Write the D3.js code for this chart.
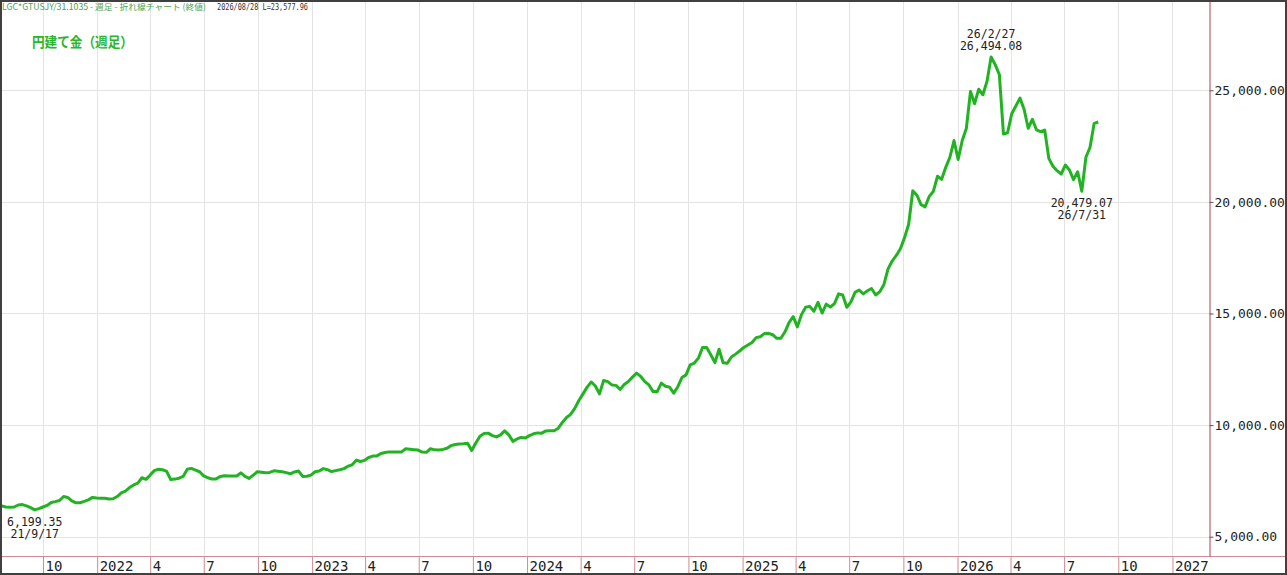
<!DOCTYPE html>
<html lang="ja">
<head>
<meta charset="utf-8">
<title>円建て金（週足）</title>
<script src="https://cdn.jsdelivr.net/npm/d3@7"></script>
<style>
  body { margin: 0; background: #fff; }
  svg { display: block; }
  .axis text { font-family: 'DejaVu Sans Mono', monospace; font-size: 14px; fill: #222; }
  .y.axis text { font-size: 13px; }
  .x.axis .tick line { stroke: #cf8a94; }
  .y.axis .tick line { stroke: #555; }
  .y.axis .domain { stroke: #b0404e; }
  .grid line { stroke: #e6e3e3; shape-rendering: crispEdges; }
  .note { font-family: 'DejaVu Sans Mono', monospace; font-size: 11.5px; fill: #222; }
</style>
</head>
<body>
<div id="gold-graph"><svg></svg></div>
<script>
const width = 1287
const height = 575
const plot = { right: 1209, bottom: 556 }

// weekly closes (Friday), yen per gram
const closes2021 = [6375, 6330, 6320, 6330, 6420, 6440, 6380, 6300, 6199.35, 6260, 6330, 6400,
  6530, 6570, 6620, 6800, 6760, 6600, 6520, 6520, 6580, 6650, 6760, 6730]
const closes2022 = [6720, 6720, 6690, 6700, 6800, 6960, 7040, 7200, 7320, 7400, 7640, 7570, 7760,
  7960, 8020, 8000, 7930, 7560, 7580, 7620, 7700, 8020, 8060, 7980, 7910, 7720, 7640, 7580,
  7590, 7700, 7730, 7720, 7720, 7720, 7860, 7700, 7610, 7760, 7910, 7890, 7870, 7880, 7950,
  7930, 7910, 7870, 7820, 7900, 7940, 7700, 7710, 7760]
const closes2023 = [7910, 7940, 8050, 8000, 7920, 7960, 8000, 8050, 8160, 8220, 8430, 8370, 8420,
  8550, 8610, 8620, 8730, 8770, 8800, 8800, 8790, 8800, 8940, 8920, 8900, 8880, 8790, 8780,
  8940, 8890, 8880, 8910, 8960, 9080, 9130, 9150, 9160, 9190, 8860, 9200, 9500, 9620, 9640,
  9530, 9470, 9560, 9740, 9560, 9270, 9380, 9450, 9420]
const closes2024 = [9530, 9610, 9650, 9640, 9740, 9750, 9750, 9860, 10120, 10340, 10480, 10750,
  11100, 11400, 11700, 11930, 11750, 11400, 12000, 11950, 11800, 11780, 11600, 11820, 11950,
  12150, 12330, 12180, 11950, 11800, 11500, 11500, 11880, 11740, 11700, 11430, 11720, 12130,
  12250, 12700, 12780, 13000, 13480, 13480, 13150, 12800, 13400, 12790, 12770, 13050, 13180,
  13320]
const closes2025 = [13480, 13590, 13700, 13920, 13960, 14100, 14110, 14050, 13890, 13890, 14180,
  14600, 14860, 14400, 14950, 15280, 15320, 15100, 15500, 15020, 15420, 15290, 15440, 15880,
  15830, 15280, 15520, 15950, 16050, 15880, 16020, 16120, 15830, 15980, 16300, 17000, 17350,
  17600, 17900, 18400, 19000, 20500, 20300, 19880, 19780, 20250, 20480, 21150, 21010, 21550,
  22000, 22750]
const closes2026 = [21900, 22750, 23300, 24950, 24400, 25050, 24800, 25400, 26494.08, 26150,
  25700, 23040, 23100, 23950, 24300, 24650, 24150, 23300, 23700, 23230, 23150, 23220, 21950,
  21600, 21400, 21250, 21650, 21430, 21000, 21350, 20479.07, 22000, 22450, 23520, 23577.96]

const firstWeek = new Date(2021, 6, 23)
const lastWeek = new Date(2026, 7, 28)
const yTicks = [5000, 10000, 15000, 20000, 25000]
const noteDates = [new Date(2021, 8, 17), new Date(2026, 1, 27), new Date(2026, 6, 31)]
const headerText = ['LGC*GTUSJY/31.1035 - 週足 - 折れ線チャート (終値)', '2026/08/28 L=23,577.96']
const titleText = '円建て金（週足）'

/**
 * Sets up the svg element and returns it.
 *
 * @returns {*} The d3 Selection of the svg
 */
function generateSvg () {
  return d3.select('#gold-graph')
    .select('svg')
    .attr('width', width)
    .attr('height', height)
}

/**
 * Draws the light gridlines behind the line.
 *
 * @param {*} svg The d3 Selection of the svg
 * @param {*} x The time scale
 * @param {*} y The value scale
 */
function appendGrid (svg, x, y) {
  const g = svg.append('g').attr('class', 'grid')
  g.selectAll('line.v')
    .data(x.ticks(d3.timeMonth.every(3)))
    .join('line')
    .attr('class', 'v')
    .attr('x1', d => Math.round(x(d)) + 0.5)
    .attr('x2', d => Math.round(x(d)) + 0.5)
    .attr('y1', 0)
    .attr('y2', plot.bottom)
  g.selectAll('line.h')
    .data(yTicks)
    .join('line')
    .attr('class', 'h')
    .attr('x1', 0)
    .attr('x2', plot.right)
    .attr('y1', d => Math.round(y(d)) + 0.5)
    .attr('y2', d => Math.round(y(d)) + 0.5)
}

/**
 * Draws the month axis under the plot and the value axis on the right.
 *
 * @param {*} svg The d3 Selection of the svg
 * @param {*} x The time scale
 * @param {*} y The value scale
 */
function appendAxes (svg, x, y) {
  const xAxis = d3.axisBottom(x)
    .ticks(d3.timeMonth.every(3))
    .tickSize(height - plot.bottom)
    .tickSizeOuter(0)
    .tickFormat(d => d.getMonth() === 0 ? d.getFullYear() : d.getMonth() + 1)

  svg.append('g')
    .attr('class', 'x axis')
    .attr('transform', 'translate(0,' + plot.bottom + ')')
    .call(xAxis)
    .call(g => g.select('.domain').remove())
    .call(g => g.selectAll('.tick text')
      .attr('text-anchor', 'start')
      .attr('x', 2)
      .attr('y', 15)
      .attr('dy', 0))

  svg.append('line')
    .attr('x1', 0)
    .attr('x2', width)
    .attr('y1', plot.bottom + 0.5)
    .attr('y2', plot.bottom + 0.5)
    .attr('stroke', '#cf8a94')

  const yAxis = d3.axisRight(y)
    .tickValues(yTicks)
    .tickSize(4)
    .tickSizeOuter(0)
    .tickPadding(1)
    .tickFormat(d3.format(',.2f'))

  svg.append('g')
    .attr('class', 'y axis')
    .attr('transform', 'translate(' + (plot.right + 0.5) + ',0)')
    .call(yAxis)
}

/**
 * Writes the date and value next to the marked weeks.
 *
 * @param {*} svg The d3 Selection of the svg
 * @param {Array} data The weekly points
 * @param {*} x The time scale
 * @param {*} y The value scale
 */
function appendNotes (svg, data, x, y) {
  const maxClose = d3.max(data, d => d.close)
  const fmtDate = d3.timeFormat('%y/%-m/%-d')
  const fmtValue = d3.format(',.2f')
  const points = noteDates.map(nd => data.find(d => +d.date === +nd))

  points.forEach(p => {
    const px = Math.max(x(p.date), 30)
    const py = y(p.close)
    const above = p.close === maxClose
    const lines = above
      ? [[fmtDate(p.date), py - 19], [fmtValue(p.close), py - 7]]
      : [[fmtValue(p.close), py + 16], [fmtDate(p.date), py + 28]]
    lines.forEach(l => {
      svg.append('text')
        .attr('class', 'note')
        .attr('x', px)
        .attr('y', l[1])
        .attr('text-anchor', 'middle')
        .text(l[0])
    })
  })
}

/**
 * Appends the header line and the title.
 *
 * @param {*} svg The d3 Selection of the svg
 */
function appendLabels (svg) {
  svg.append('text')
    .attr('x', 2)
    .attr('y', 10)
    .attr('textLength', 204)
    .attr('lengthAdjust', 'spacingAndGlyphs')
    .style('font', '8.5px "Noto Sans CJK JP", sans-serif')
    .attr('fill', '#4f9f4f')
    .text(headerText[0])

  svg.append('text')
    .attr('x', 217)
    .attr('y', 10)
    .attr('textLength', 91)
    .attr('lengthAdjust', 'spacingAndGlyphs')
    .style('font', '8.5px "DejaVu Sans Mono", monospace')
    .attr('fill', '#333')
    .text(headerText[1])

  svg.append('text')
    .attr('x', 32)
    .attr('y', 47)
    .attr('textLength', 101)
    .attr('lengthAdjust', 'spacingAndGlyphs')
    .style('font', 'bold 14px "Noto Sans CJK JP", sans-serif')
    .attr('fill', '#2bb52b')
    .text(titleText)
}

const svg = generateSvg()

const weeks = d3.timeFriday.range(firstWeek, d3.timeDay.offset(lastWeek, 1))
const closes = [].concat(closes2021, closes2022, closes2023, closes2024, closes2025, closes2026)
const data = weeks.map((d, i) => ({ date: d, close: closes[i] }))

const x = d3.scaleTime()
  .domain([new Date(2021, 6, 20), new Date(2027, 2, 4)])
  .range([0, plot.right])
const y = d3.scaleLinear()
  .domain([4135, 29046])
  .range([plot.bottom, 0])

appendGrid(svg, x, y)
appendAxes(svg, x, y)

svg.append('path')
  .datum(data)
  .attr('fill', 'none')
  .attr('stroke', '#22b322')
  .attr('stroke-width', 3)
  .attr('stroke-linejoin', 'round')
  .attr('d', d3.line().x(d => x(d.date)).y(d => y(d.close)))

appendNotes(svg, data, x, y)
appendLabels(svg)

svg.append('rect')
  .attr('x', 1)
  .attr('y', 1)
  .attr('width', width - 2)
  .attr('height', height - 2)
  .attr('fill', 'none')
  .attr('stroke', '#404040')
  .attr('stroke-width', 2)
</script>
</body>
</html>
